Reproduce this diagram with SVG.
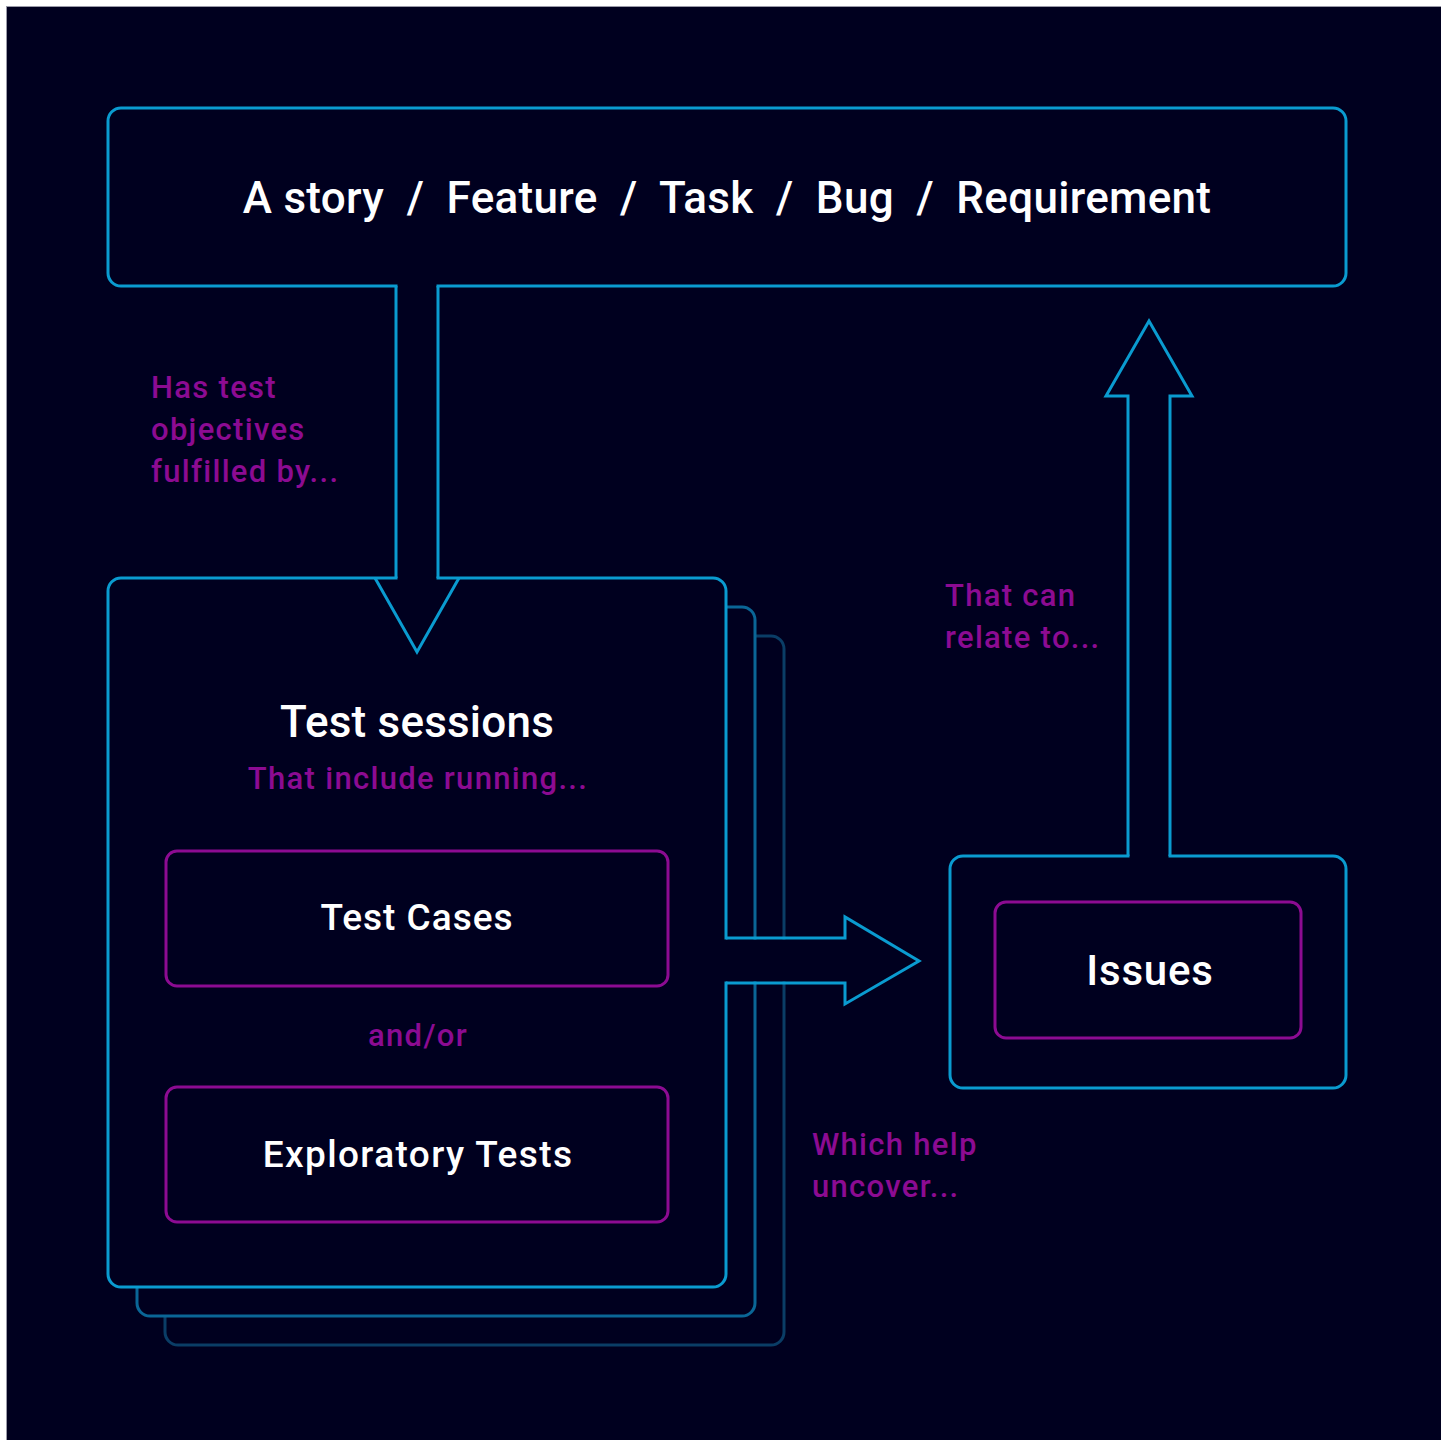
<svg xmlns="http://www.w3.org/2000/svg" width="1441" height="1440" viewBox="0 0 1441 1440">
<style>
.bg{fill:#00001f}
.box{fill:#00001f;stroke:#0a9bd0;stroke-width:3}
.inner{fill:#00001f;stroke:#8c0b92;stroke-width:3}
.line{fill:none;stroke:#0a9bd0;stroke-width:3;stroke-linejoin:miter}
.cover{fill:#00001f;stroke:none}
.white{fill:#ffffff;font-family:Roboto,"Liberation Sans",sans-serif;font-weight:500}
.purple{fill:#8c0b92;font-family:Roboto,"Liberation Sans",sans-serif;font-weight:500;letter-spacing:1.3px}
</style>
<rect x="0" y="0" width="1441" height="1440" fill="#ffffff"/>
<rect x="6.5" y="6.5" width="1440" height="1440" class="bg" stroke="#9a9aa8" stroke-width="1"/>

<g id="story">
<rect x="108" y="108" width="1238" height="178" rx="13" class="box"/>
<text x="727" y="213" text-anchor="middle" class="white" font-size="44" letter-spacing="0.3" style="white-space:pre">A story  /  Feature  /  Task  /  Bug  /  Requirement</text>
</g>

<g id="test-sessions">
<rect x="165" y="636" width="619" height="709" rx="13" fill="#00001f" stroke="#0a3d66" stroke-width="3"/>
<rect x="137" y="607" width="618" height="709" rx="13" fill="#00001f" stroke="#0a6696" stroke-width="3"/>
<rect x="108" y="578" width="618" height="709" rx="13" class="box"/>
<text x="417" y="737" text-anchor="middle" class="white" font-size="44" letter-spacing="0.2">Test sessions</text>
<text x="418" y="789" text-anchor="middle" class="purple" font-size="31">That include running...</text>
<text x="418" y="1046" text-anchor="middle" class="purple" font-size="31">and/or</text>
</g>

<g id="test-cases">
<rect x="166" y="851" width="502" height="135" rx="11" class="inner"/>
<text x="417" y="930" text-anchor="middle" class="white" font-size="37" letter-spacing="1">Test Cases</text>
</g>

<g id="exploratory-tests">
<rect x="166" y="1087" width="502" height="135" rx="11" class="inner"/>
<text x="418" y="1167" text-anchor="middle" class="white" font-size="37" letter-spacing="1.4">Exploratory Tests</text>
</g>

<g id="issues-group">
<rect x="950" y="856" width="396" height="232" rx="13" class="box"/>
</g>

<g id="issues">
<rect x="995" y="902" width="306" height="136" rx="11" class="inner"/>
<text x="1150" y="985" text-anchor="middle" class="white" font-size="42" letter-spacing="0.8">Issues</text>
</g>

<g id="connectors">
<rect x="397.5" y="283" width="39" height="298" class="cover"/>
<path d="M396 286 V578 M438 286 V578 M375 578 L417 652 L459 578" class="line"/>
<rect x="723" y="939.5" width="123" height="42" class="cover"/>
<path d="M726 938 H845 V917 L919 961 L845 1004 V983 H726" class="line"/>
<rect x="1129.5" y="396" width="39" height="463" class="cover"/>
<path d="M1128 856 V396 H1106 L1149 321 L1192 396 H1170 V856" class="line"/>
</g>

<g id="labels">
<text class="purple" font-size="31"><tspan x="151" y="398">Has test</tspan><tspan x="151" y="440">objectives</tspan><tspan x="151" y="482">fulfilled by...</tspan></text>
<text class="purple" font-size="31"><tspan x="945" y="606">That can</tspan><tspan x="945" y="648">relate to...</tspan></text>
<text class="purple" font-size="31"><tspan x="812" y="1155">Which help</tspan><tspan x="812" y="1197">uncover...</tspan></text>
</g>
</svg>
